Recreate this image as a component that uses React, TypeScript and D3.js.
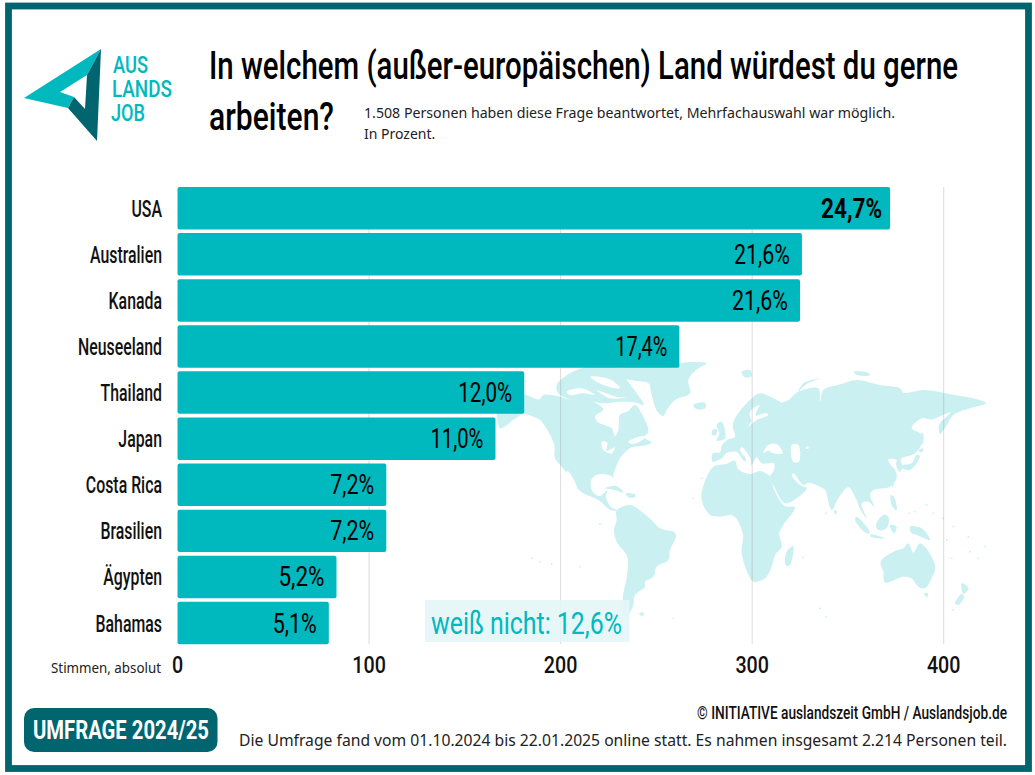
import * as d3 from "d3";
import type { ReactNode } from "react";

// survey values
const countries = ["USA", "Australien", "Kanada", "Neuseeland", "Thailand", "Japan", "Costa Rica", "Brasilien", "Ägypten", "Bahamas"];
const votes = [372, 326, 325, 262, 181, 166, 109, 109, 83, 79];
const percentLabels = ["24,7%", "21,6%", "21,6%", "17,4%", "12,0%", "11,0%", "7,2%", "7,2%", "5,2%", "5,1%"];
const percentWidths = [61, 56, 56, 52, 54, 53, 44, 44, 46, 44];
const axisTicks = [0, 100, 200, 300, 400];

const DARK = "#00656f";
const TEAL = "#00b9bf";
const LAND = "#caf0f1";
const NARROW = "Roboto, sans-serif";
const BODY = "'Noto Sans', 'Open Sans', sans-serif";

type Pt = [number, number];

const westLand: Pt[][] = [
  // north america, runs on under the bars
  [[-60, 100], [12, 103], [58, 118], [70, 105], [110, 108], [150, 118], [195, 118], [225, 128], [250, 148], [225, 170], [232, 185], [275, 205], [285, 228], [295, 210], [300, 165], [325, 152], [345, 135], [370, 170], [385, 215], [372, 232], [395, 248], [365, 258], [335, 262], [300, 295], [285, 330], [280, 345], [295, 375], [280, 352], [250, 342], [225, 347], [212, 365], [218, 395], [240, 408], [262, 390], [258, 410], [272, 440], [295, 452], [272, 450], [235, 420], [190, 400], [165, 378], [145, 345], [125, 320], [105, 295], [103, 255], [85, 215], [60, 180], [40, 170], [12, 162], [0, 166], [-20, 180], [-60, 205]],
  // greenland
  [[300, 20], [477, 20], [477, 12], [560, 10], [528, 30], [505, 60], [510, 100], [465, 120], [440, 150], [430, 168], [412, 155], [395, 105], [385, 70], [345, 62], [300, 50]],
  // arctic islands
  [[110, 75], [150, 40], [200, 20], [290, 20], [320, 60], [350, 100], [372, 135], [350, 128], [300, 125], [250, 130], [190, 120], [150, 118], [115, 100]],
  // caribbean
  [[255, 385], [290, 378], [310, 398], [285, 390]],
  [[318, 400], [345, 403], [345, 412], [322, 410]],
  // south america
  [[290, 452], [330, 435], [365, 455], [400, 485], [420, 505], [465, 518], [468, 530], [450, 570], [445, 600], [410, 620], [400, 650], [375, 665], [375, 680], [345, 705], [340, 735], [325, 775], [335, 780], [315, 770], [308, 720], [322, 640], [322, 590], [290, 545], [282, 510], [290, 480]],
  [[358, 760], [370, 758], [372, 766], [360, 766]],
  // iceland
  [[520, 135], [555, 128], [556, 145], [530, 148]],
];

const eastLand: Pt[][] = [
  // africa
  [[-80, 290], [-40, 282], [-15, 272], [-5, 298], [30, 312], [60, 303], [88, 318], [105, 365], [135, 408], [165, 412], [130, 465], [118, 490], [125, 530], [105, 555], [95, 590], [75, 625], [40, 635], [28, 620], [5, 550], [8, 490], [-20, 437], [-60, 440], [-90, 435], [-115, 390], [-112, 355]],
  // eurasia
  [[-82, 275], [-82, 250], [-60, 247], [-55, 228], [-35, 208], [-15, 200], [-22, 170], [-15, 145], [30, 90], [60, 70], [100, 85], [125, 100], [110, 103], [145, 90], [170, 68], [235, 55], [240, 95], [250, 60], [305, 42], [350, 30], [420, 45], [480, 55], [490, 68], [550, 60], [610, 68], [660, 78], [700, 85], [738, 100], [690, 115], [640, 135], [620, 165], [600, 192], [597, 165], [632, 127], [575, 148], [545, 145], [515, 175], [540, 190], [545, 220], [525, 250], [482, 268], [488, 290], [478, 305], [468, 282], [470, 270], [445, 268], [452, 285], [465, 300], [470, 325], [450, 350], [400, 360], [390, 375], [403, 410], [385, 395], [365, 400], [380, 445], [362, 420], [345, 380], [325, 352], [295, 385], [275, 420], [255, 360], [240, 350], [205, 338], [190, 345], [160, 310], [155, 315], [180, 345], [200, 355], [170, 385], [135, 400], [105, 355], [90, 318], [100, 305], [102, 280], [65, 280], [50, 262], [45, 268], [35, 285], [30, 262], [5, 232], [0, 240], [18, 268], [15, 275], [-10, 245], [-20, 245], [-40, 248], [-55, 265]],
  // uk, ireland
  [[-70, 165], [-55, 155], [-45, 205], [-70, 212], [-62, 190]],
  [[-82, 180], [-70, 178], [-72, 195], [-84, 195]],
  // arctic
  [[5, 5], [30, 0], [35, 18], [15, 22]],
  [[175, 65], [190, 40], [240, 25], [200, 42]],
  [[340, 5], [385, 8], [390, 16], [350, 14]],
  // east asia islands
  [[480, 290], [510, 300], [540, 258], [530, 255], [515, 280], [490, 285]],
  [[535, 240], [550, 235], [545, 248]],
  [[543, 190], [549, 190], [548, 222], [542, 222]],
  [[455, 340], [461, 340], [458, 352]],
  [[452, 375], [462, 380], [470, 420], [458, 412]],
  // indonesia, new guinea
  [[350, 440], [390, 488], [380, 490], [345, 450]],
  [[392, 493], [435, 505], [392, 500]],
  [[408, 465], [430, 435], [445, 440], [440, 475], [415, 480]],
  [[450, 465], [470, 470], [462, 490]],
  [[510, 470], [545, 475], [570, 510], [530, 495], [515, 490]],
  // sri lanka, madagascar
  [[283, 420], [290, 422], [289, 431], [284, 431]],
  [[135, 580], [140, 545], [160, 528], [150, 585], [140, 588]],
  // australia, tasmania, new zealand
  [[422, 575], [460, 545], [490, 535], [505, 520], [520, 548], [540, 520], [585, 585], [575, 625], [555, 655], [535, 650], [515, 625], [490, 620], [435, 637], [430, 605]],
  [[552, 670], [565, 672], [560, 682]],
  [[645, 700], [665, 672], [672, 680], [655, 705]],
  [[665, 640], [686, 655], [670, 672]],
];

// inland water, painted over the land
const westWater: Pt[][] = [
  [[140, 335], [146, 335], [172, 385], [165, 383]],
  [[245, 245], [262, 248], [260, 272], [285, 262], [275, 280], [250, 270]],
  [[325, 245], [370, 228], [372, 236], [335, 252]],
  [[140, 95], [185, 85], [225, 105], [190, 100], [150, 105]],
  [[210, 50], [270, 58], [300, 85], [250, 75]],
  [[230, 90], [290, 110], [320, 112], [270, 115]],
];
const eastWater: Pt[][] = [
  [[25, 170], [50, 150], [85, 135], [78, 130], [45, 140], [30, 160]],
  [[35, 150], [30, 125], [58, 105], [48, 130], [45, 150]],
  [[70, 250], [85, 225], [110, 222], [128, 250], [100, 250], [85, 242]],
  [[155, 225], [175, 225], [177, 275], [160, 275]],
  [[198, 230], [205, 230], [205, 236], [198, 236]],
];
const islets: Pt[] = [[508, 430], [525, 425], [560, 405], [580, 430], [610, 445], [640, 470], [620, 510], [685, 500], [735, 530], [690, 545], [635, 565], [715, 565], [258, 430], [188, 562], [240, 715], [258, 740], [638, 720]];
const westIslets: Pt[] = [[35, 595], [60, 605], [95, 612], [180, 620], [240, 492], [520, 415], [545, 355], [460, 775], [365, 760]];

const crops = {
  west: ([x, y]: Pt): Pt => [520 + x / 3, 360 + y / 3],
  east: ([x, y]: Pt): Pt => [740 + x / 3, 370 + y / 3],
};

const outline = d3.line().curve(d3.curveCatmullRomClosed.alpha(0.5));

const x = d3.scaleLinear().domain([0, 400]).range([177.5, 943.7]);
const y = d3.scaleBand().domain(countries).range([187, 644.3]).paddingInner(0.078);

// Roboto squeezed sideways, there is no condensed face installed
function Squeezed({ x, y, sx, width, anchor, children, ...rest }: {
  x: number; y: number; sx: number; width?: number; anchor?: string; children: ReactNode;
  [k: string]: unknown;
}) {
  return (
    <text
      transform={`translate(${x},${y}) scale(${sx},1)`}
      textAnchor={anchor}
      fontFamily={NARROW}
      textLength={width ? width / sx : undefined}
      lengthAdjust={width ? "spacingAndGlyphs" : undefined}
      {...rest}
    >
      {children}
    </text>
  );
}

export default function App() {
  return (
    <div style={{ position: "absolute", left: 0, top: 0 }}>
      <svg width={1035} height={775} style={{ display: "block", background: "#fff" }}>
        <rect x={8.5} y={6} width={1020} height={762.5} fill="#fff" stroke={DARK} strokeWidth={6.8} />

        {/* logo */}
        <polygon points="101,49 24,98 68,108 74,97 60,92 87,75" fill={TEAL} />
        <polygon points="101,49 87,75 85,109 74,97 68,108 97,141" fill={DARK} />
        <g fontSize={24} fontWeight={500} fill={TEAL}>
          <Squeezed x={113} y={73} sx={0.78} width={35}>AUS</Squeezed>
          <Squeezed x={112} y={97} sx={0.78} width={60}>LANDS</Squeezed>
          <Squeezed x={111} y={121} sx={0.78} width={34}>JOB</Squeezed>
        </g>

        {/* title */}
        <g fontSize={39} fontWeight={500} fill="#000">
          <Squeezed x={209} y={79} sx={0.8} width={749}>In welchem (außer-europäischen) Land würdest du gerne</Squeezed>
          <Squeezed x={209} y={130} sx={0.8} width={125}>arbeiten?</Squeezed>
        </g>
        <g fontFamily={BODY} fontSize={14} fill="#222">
          <text x={364} y={118} textLength={531} lengthAdjust="spacingAndGlyphs">1.508 Personen haben diese Frage beantwortet, Mehrfachauswahl war möglich.</text>
          <text x={364} y={139}>In Prozent.</text>
        </g>

        {/* map */}
        <g fill={LAND}>
          {westLand.map((s, i) => <path key={i} d={outline(s.map(crops.west))!} />)}
          {eastLand.map((s, i) => <path key={i} d={outline(s.map(crops.east))!} />)}
          {islets.map((p, i) => {
            const [cx, cy] = crops.east(p);
            return <circle key={i} cx={cx} cy={cy} r={0.9} />;
          })}
          {westIslets.map((p, i) => {
            const [cx, cy] = crops.west(p);
            return <circle key={i} cx={cx} cy={cy} r={0.9} />;
          })}
        </g>
        <g fill="#fff">
          {westWater.map((s, i) => <path key={i} d={outline(s.map(crops.west))!} />)}
          {eastWater.map((s, i) => <path key={i} d={outline(s.map(crops.east))!} />)}
        </g>

        {/* grid */}
        {axisTicks.slice(1).map(t => (
          <line key={t} x1={x(t)} x2={x(t)} y1={187} y2={644} stroke="#999" strokeOpacity={0.35} />
        ))}

        {/* weiß nicht */}
        <rect x={425} y={600} width={204.5} height={42} fill="#e4f6f7" fillOpacity={0.9} />
        <Squeezed x={431} y={634} sx={0.82} width={191} fontSize={31} fill={TEAL}>weiß nicht: 12,6%</Squeezed>

        {/* bars */}
        {countries.map((c, i) => (
          <g key={c}>
            <rect x={x(0)} y={y(c)} width={x(votes[i]) - x(0)} height={y.bandwidth()} rx={2} fill={TEAL} />
            <Squeezed
              x={162}
              y={y(c)! + y.bandwidth() / 2 + 8.5}
              sx={0.69}
              anchor="end"
              fontSize={23}
              fontWeight={500}
              fill="#111"
            >
              {c}
            </Squeezed>
            <Squeezed
              x={x(votes[i]) - (i === 0 ? 8 : 12) - percentWidths[i]}
              y={y(c)! + y.bandwidth() / 2 + 9.5}
              sx={0.85}
              width={percentWidths[i]}
              fontSize={27}
              fontWeight={i === 0 ? 700 : 400}
              fill="#000"
            >
              {percentLabels[i]}
            </Squeezed>
          </g>
        ))}

        {/* axis */}
        {axisTicks.map(t => (
          <Squeezed key={t} x={x(t)} y={673} sx={0.82} anchor="middle" fontSize={24} fontWeight={500} fill="#111">{t}</Squeezed>
        ))}
        <text x={161} y={673} textAnchor="end" fontFamily={BODY} fontSize={14} fill="#222" textLength={110} lengthAdjust="spacingAndGlyphs">Stimmen, absolut</text>

        {/* footer */}
        <rect x={24} y={708} width={193.5} height={44} rx={10} fill={DARK} />
        <Squeezed x={33} y={739} sx={0.85} width={176} fontSize={25} fontWeight={700} fill="#fff">UMFRAGE 2024/25</Squeezed>
        <Squeezed x={697} y={719} sx={0.82} width={310} fontSize={18} fontWeight={500} fill="#111">© INITIATIVE auslandszeit GmbH / Auslandsjob.de</Squeezed>
        <text x={239} y={746} fontFamily={BODY} fontSize={15.5} fill="#222" textLength={768} lengthAdjust="spacingAndGlyphs">Die Umfrage fand vom 01.10.2024 bis 22.01.2025 online statt. Es nahmen insgesamt 2.214 Personen teil.</text>
      </svg>
    </div>
  );
}
